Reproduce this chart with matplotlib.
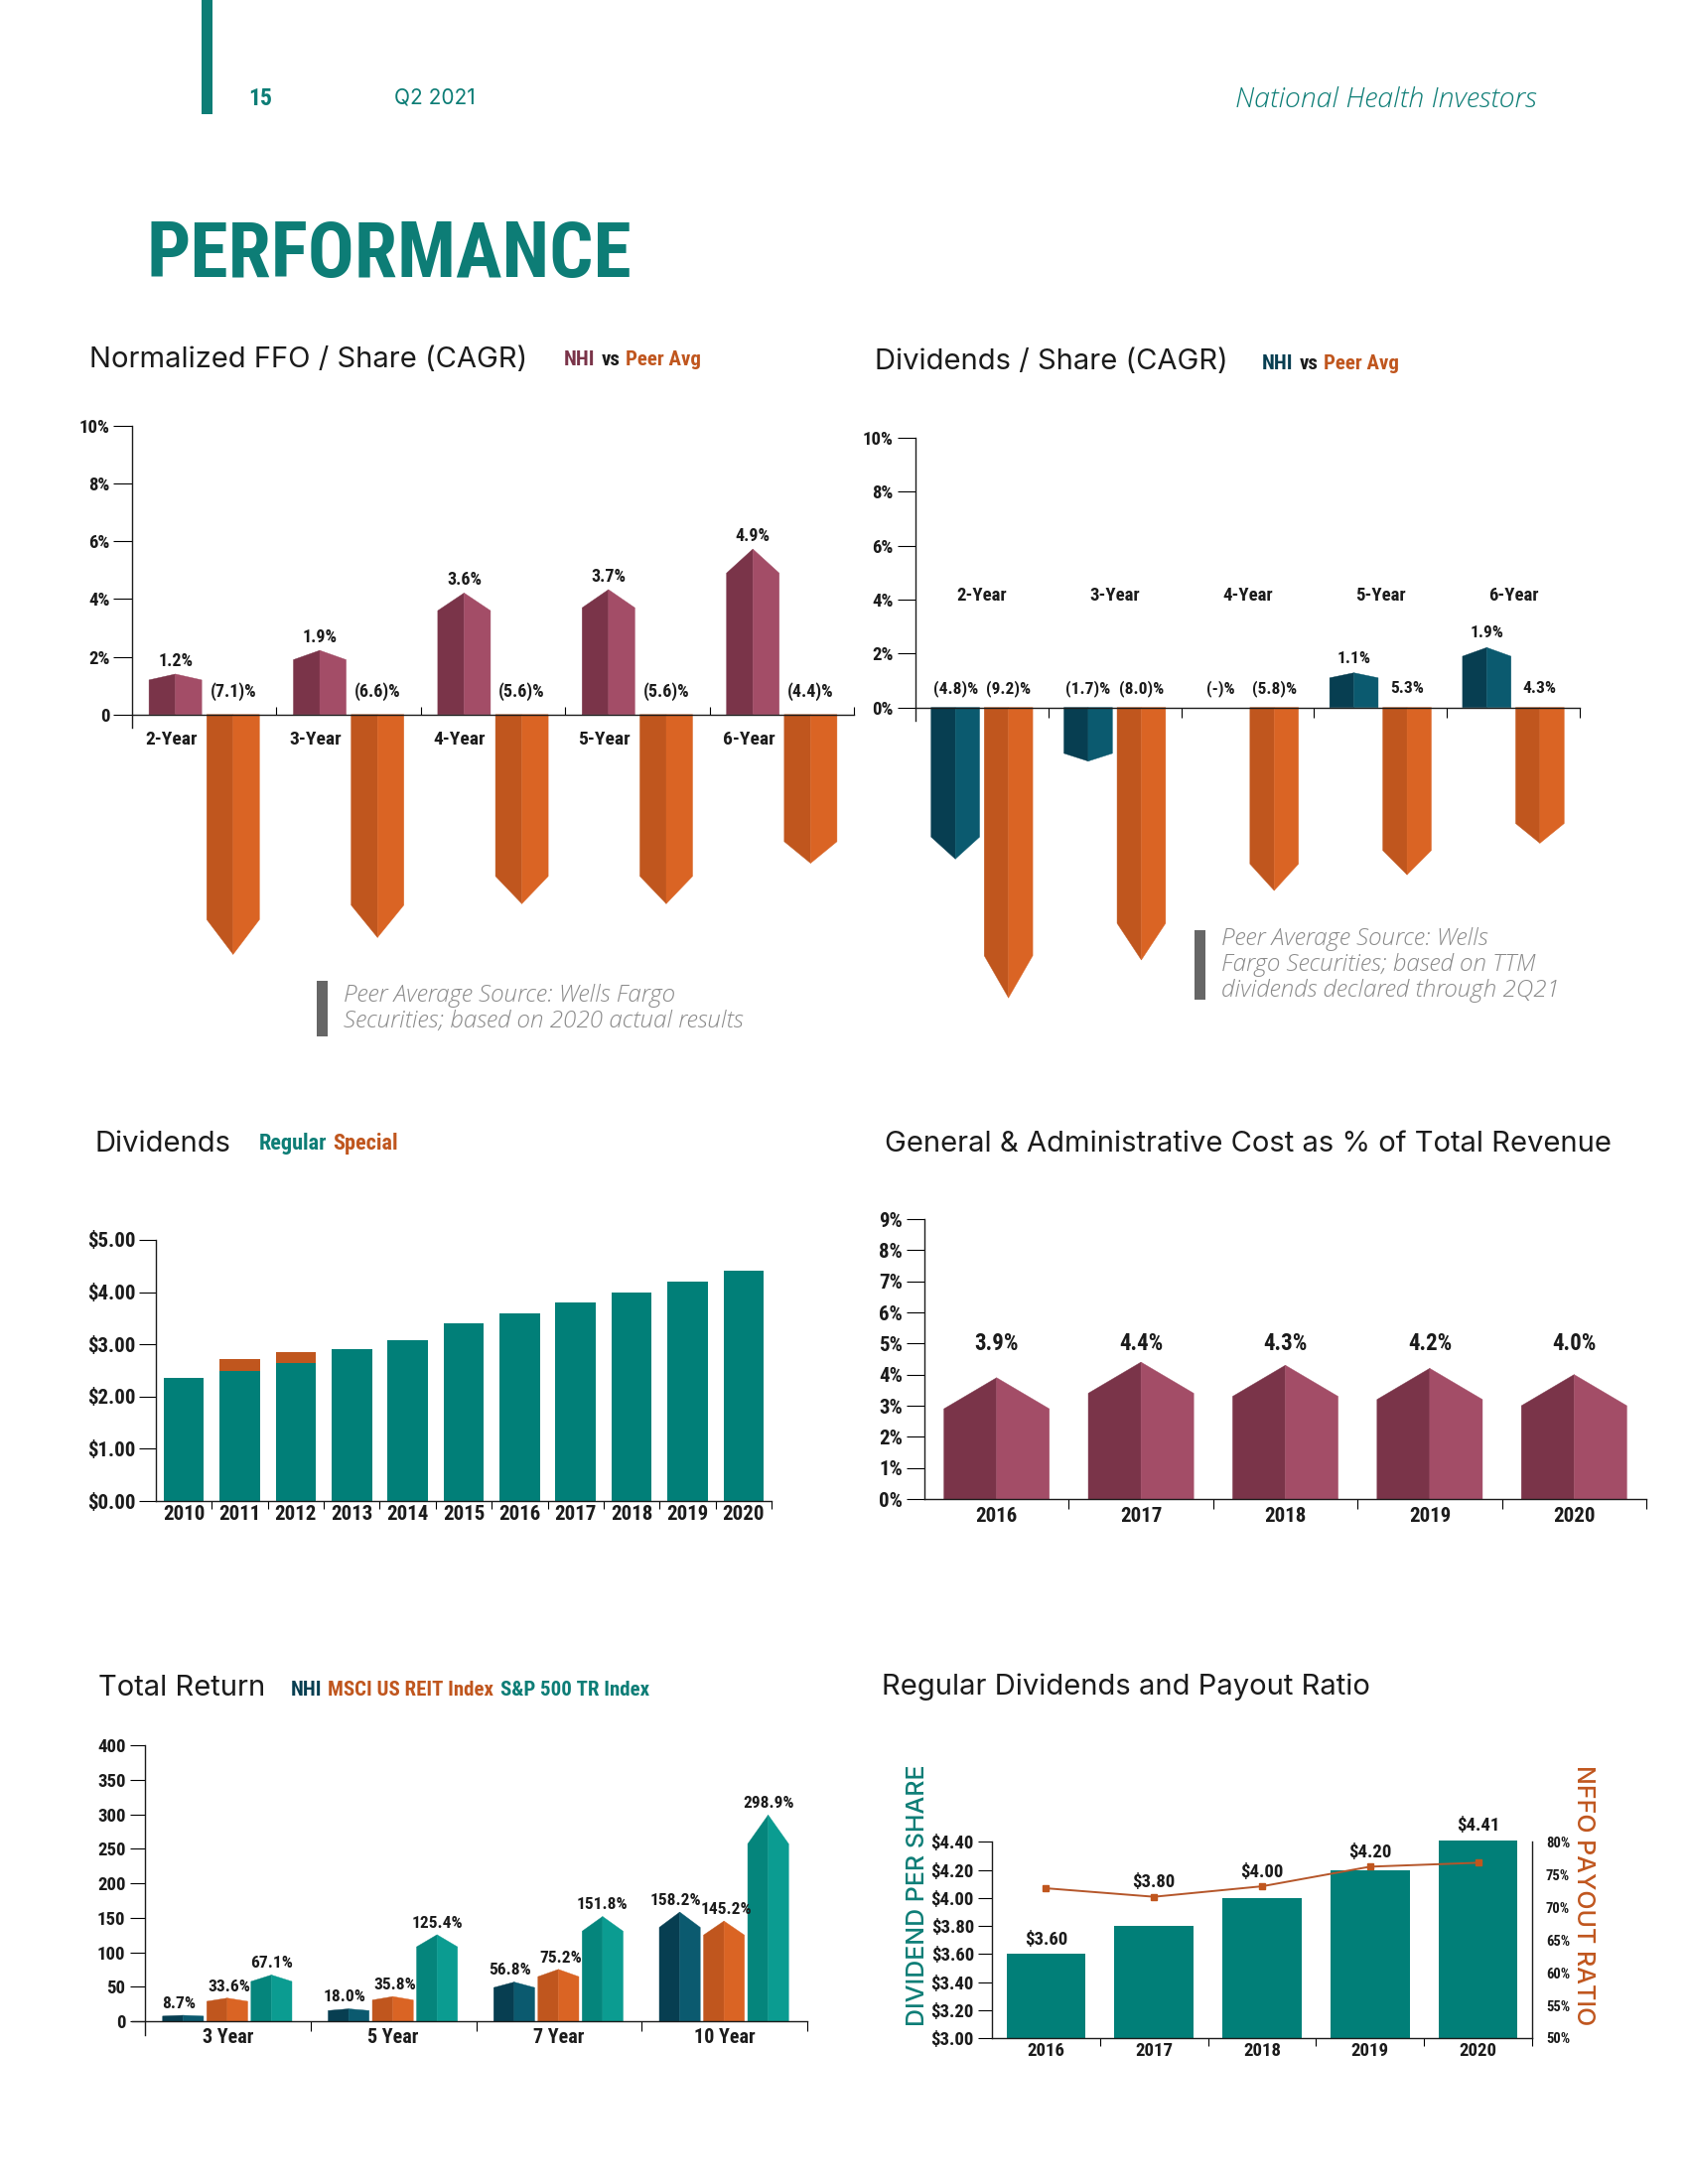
import matplotlib
matplotlib.use("Agg")
import matplotlib.pyplot as plt
from matplotlib import font_manager
from matplotlib.patches import Rectangle

W, H = 1700, 2200

# ---- data -------------------------------------------------------------
CAGR_GROUPS = ["2-Year", "3-Year", "4-Year", "5-Year", "6-Year"]

FFO_NHI = [1.2, 1.9, 3.6, 3.7, 4.9]
FFO_PEER = [-7.1, -6.6, -5.6, -5.6, -4.4]
FFO_NHI_LABELS = ["1.2%", "1.9%", "3.6%", "3.7%", "4.9%"]
FFO_PEER_LABELS = ["(7.1)%", "(6.6)%", "(5.6)%", "(5.6)%", "(4.4)%"]
FFO_YTICKS = [0, 2, 4, 6, 8, 10]
FFO_YLABELS = ["0", "2%", "4%", "6%", "8%", "10%"]

DPS_NHI = [-4.8, -1.7, 0.0, 1.1, 1.9]
DPS_PEER = [-9.2, -8.0, -5.8, -5.3, -4.3]
DPS_NHI_LABELS = ["(4.8)%", "(1.7)%", "(-)%", "1.1%", "1.9%"]
DPS_PEER_LABELS = ["(9.2)%", "(8.0)%", "(5.8)%", "5.3%", "4.3%"]
DPS_YLABELS = ["0%", "2%", "4%", "6%", "8%", "10%"]

DIV_YEARS = ["2010", "2011", "2012", "2013", "2014", "2015",
             "2016", "2017", "2018", "2019", "2020"]
DIV_REGULAR = [2.36, 2.50, 2.64, 2.90, 3.08, 3.40, 3.60, 3.80, 4.00, 4.20, 4.41]
DIV_SPECIAL = [0.0, 0.22, 0.22, 0.0, 0.0, 0.0, 0.0, 0.0, 0.0, 0.0, 0.0]
DIV_YTICKS = [0, 1, 2, 3, 4, 5]
DIV_YLABELS = ["$0.00", "$1.00", "$2.00", "$3.00", "$4.00", "$5.00"]

GA_YEARS = ["2016", "2017", "2018", "2019", "2020"]
GA_PCT = [3.9, 4.4, 4.3, 4.2, 4.0]
GA_LABELS = ["3.9%", "4.4%", "4.3%", "4.2%", "4.0%"]
GA_YTICKS = list(range(10))
GA_YLABELS = [f"{t}%" for t in GA_YTICKS]

TR_PERIODS = ["3 Year", "5 Year", "7 Year", "10 Year"]
TR_NHI = [8.7, 18.0, 56.8, 158.2]
TR_MSCI = [33.6, 35.8, 75.2, 145.2]
TR_SP = [67.1, 125.4, 151.8, 298.9]
TR_YTICKS = [0, 50, 100, 150, 200, 250, 300, 350, 400]

PAY_YEARS = ["2016", "2017", "2018", "2019", "2020"]
PAY_DPS = [3.60, 3.80, 4.00, 4.20, 4.41]
PAY_DPS_LABELS = ["$3.60", "$3.80", "$4.00", "$4.20", "$4.41"]
PAY_RATIO = [72.9, 71.6, 73.2, 76.2, 76.8]
PAY_YTICKS = [3.0, 3.2, 3.4, 3.6, 3.8, 4.0, 4.2, 4.4]
PAY_YLABELS = ["$3.00", "$3.20", "$3.40", "$3.60", "$3.80", "$4.00", "$4.20", "$4.40"]
PAY_RTICKS = [50, 55, 60, 65, 70, 75, 80]

# ---- style ------------------------------------------------------------
TEAL = "#0d7d76"
TEAL_BAR = "#017f78"
MAROON_D, MAROON_L = "#7a3449", "#a34d67"
ORANGE_D, ORANGE_L = "#c0561e", "#da6424"
NAVY_D, NAVY_L = "#073e51", "#0b5a6f"
SP_D, SP_L = "#05857c", "#0b9c91"
INK = "#1b1b1b"

_installed = {f.name for f in font_manager.fontManager.ttflist}
COND = next((n for n in ["Liberation Sans Narrow", "Roboto Condensed",
                         "DejaVu Sans Condensed"] if n in _installed), "DejaVu Sans")
CK = dict(fontfamily=COND, fontstretch="condensed", fontweight="bold", color=INK)
SANS = ["Inter", "Open Sans", "DejaVu Sans"]
LIGHT = ["Open Sans", "Lato", "DejaVu Sans"]
TITLE = dict(fontsize=21, fontfamily=SANS, color=INK, va="center", ha="left")

plt.rcParams["axes.linewidth"] = 1.0
plt.rcParams["axes.edgecolor"] = INK


def px_axes(fig, left, top, right, bottom):
    return fig.add_axes([left / W, 1 - bottom / H, (right - left) / W, (bottom - top) / H])


def fig_text(fig, x, y, s, **kw):
    return fig.text(x / W, 1 - y / H, s, **kw)


def text_run(fig, x, y, pieces, size=15, gap=6):
    renderer = fig.canvas.get_renderer()
    for s, color in pieces:
        t = fig_text(fig, x, y, s, fontsize=size, va="center", ha="left",
                     **{**CK, "color": color})
        x = t.get_window_extent(renderer).x1 + gap


def footnote(fig, x, top, bottom, lines):
    fig.add_artist(Rectangle((x / W, 1 - bottom / H), 11 / W, (bottom - top) / H,
                             transform=fig.transFigure, color="#666666", lw=0))
    fig_text(fig, x + 27, (top + bottom) / 2, "\n".join(lines), fontsize=17.5,
             style="italic", fontweight="light", fontfamily=LIGHT, color="#8a8a8a",
             va="center", ha="left", linespacing=1.1)


def pointed_bar(ax, xc, width, shoulder, tip, dark, light):
    # two-tone bar with a pointed end: left half dark, right half light
    if shoulder == 0:
        return
    half = width / 2
    ax.fill([xc - half, xc - half, xc, xc], [0, shoulder, tip, 0],
            color=dark, lw=0.3, ec=dark)
    ax.fill([xc, xc, xc + half, xc + half], [0, tip, shoulder, 0],
            color=light, lw=0.3, ec=light)


def clean(ax, left_bounds, bottom_bounds, bottom_at=None):
    ax.spines[["top", "right"]].set_visible(False)
    ax.spines["left"].set_bounds(*left_bounds)
    ax.spines["bottom"].set_bounds(*bottom_bounds)
    if bottom_at is not None:
        ax.spines["bottom"].set_position(("data", bottom_at))
    ax.patch.set_alpha(0)


def draw_header(fig):
    fig.add_artist(Rectangle((203 / W, 1 - 115 / H), 11 / W, 115 / H,
                             transform=fig.transFigure, color=TEAL, lw=0))
    fig_text(fig, 250, 100, "15", fontsize=17, va="center", **{**CK, "color": TEAL})
    fig_text(fig, 397, 99, "Q2 2021", fontsize=15, color=TEAL, fontfamily=SANS, va="center")
    fig_text(fig, 1547, 100, "National Health Investors", fontsize=20.5, style="italic",
             fontweight="light", color=TEAL, fontfamily=LIGHT, ha="right", va="center")
    fig_text(fig, 147, 258, "PERFORMANCE", fontsize=56, va="center",
             **{**CK, "color": TEAL})


def draw_ffo(fig):
    fig_text(fig, 90, 362, "Normalized FFO / Share (CAGR)", **TITLE)
    text_run(fig, 568, 363, [("NHI", MAROON_D), ("vs", INK), ("Peer Avg", ORANGE_D)])
    ax = px_axes(fig, 133, 429, 860, 999)
    ax.set_xlim(0, len(CAGR_GROUPS))
    ax.set_ylim(-9.6, 10)
    for i, group in enumerate(CAGR_GROUPS):
        nv, pv = FFO_NHI[i], FFO_PEER[i]
        pointed_bar(ax, i + 0.3, 0.365, nv, nv * 1.17, MAROON_D, MAROON_L)
        pointed_bar(ax, i + 0.7, 0.365, pv, pv * 1.17, ORANGE_D, ORANGE_L)
        ax.annotate(FFO_NHI_LABELS[i], (i + 0.3, nv * 1.17), xytext=(0, 3),
                    textcoords="offset points", ha="center", va="bottom",
                    fontsize=13, **CK)
        ax.text(i + 0.7, 0.8, FFO_PEER_LABELS[i], ha="center", va="center",
                fontsize=13, **CK)
        ax.text(i + 0.27, -0.85, group, ha="center", va="center", fontsize=14, **CK)
    clean(ax, (-0.45, 10), (0, len(CAGR_GROUPS)), bottom_at=0)
    ax.set_yticks(FFO_YTICKS, FFO_YLABELS, fontsize=13.5, **CK)
    ax.set_xticks(range(1, len(CAGR_GROUPS) + 1), [])
    ax.tick_params(axis="y", length=14, width=0.8, pad=2)
    ax.tick_params(axis="x", direction="in", length=6, width=0.8)
    footnote(fig, 319, 988, 1044, ["Peer Average Source: Wells Fargo",
                                   "Securities; based on 2020 actual results"])


def draw_dps(fig):
    fig_text(fig, 881, 364, "Dividends / Share (CAGR)", **TITLE)
    text_run(fig, 1271, 366, [("NHI", NAVY_D), ("vs", INK), ("Peer Avg", ORANGE_D)])
    ax = px_axes(fig, 922, 441, 1591, 1017)
    ax.set_xlim(0, len(CAGR_GROUPS))
    ax.set_ylim(-11.2, 10)
    for i, group in enumerate(CAGR_GROUPS):
        nv, pv = DPS_NHI[i], DPS_PEER[i]
        pointed_bar(ax, i + 0.3, 0.365, nv, nv * 1.17, NAVY_D, NAVY_L)
        pointed_bar(ax, i + 0.7, 0.365, pv, pv * 1.17, ORANGE_D, ORANGE_L)
        if nv > 0:
            ax.annotate(DPS_NHI_LABELS[i], (i + 0.3, nv * 1.17), xytext=(0, 5),
                        textcoords="offset points", ha="center", va="bottom",
                        fontsize=12.5, **CK)
        else:
            ax.text(i + 0.3, 0.7, DPS_NHI_LABELS[i], ha="center", va="center",
                    fontsize=12.5, **CK)
        ax.text(i + 0.7, 0.7, DPS_PEER_LABELS[i], ha="center", va="center",
                fontsize=12.5, **CK)
        ax.text(i + 0.5, 4.15, group, ha="center", va="center", fontsize=13.5, **CK)
    clean(ax, (-0.5, 10), (0, len(CAGR_GROUPS)), bottom_at=0)
    ax.set_yticks(FFO_YTICKS, DPS_YLABELS, fontsize=13.5, **CK)
    ax.set_xticks(range(1, len(CAGR_GROUPS) + 1), [])
    ax.tick_params(axis="y", length=13, width=0.8, pad=3)
    ax.tick_params(axis="x", direction="out", length=7, width=0.8)
    footnote(fig, 1203, 937, 1007, ["Peer Average Source: Wells",
                                    "Fargo Securities; based on TTM",
                                    "dividends declared through 2Q21"])


def draw_dividends(fig):
    fig_text(fig, 96, 1152, "Dividends", **TITLE)
    text_run(fig, 261, 1152, [("Regular", TEAL), ("Special", ORANGE_D)], size=16)
    ax = px_axes(fig, 157, 1249, 777, 1512)
    n = len(DIV_YEARS)
    centers = [i + 0.5 for i in range(n)]
    ax.bar(centers, DIV_REGULAR, 0.72, color=TEAL_BAR)
    ax.bar(centers, DIV_SPECIAL, 0.72, bottom=DIV_REGULAR, color=ORANGE_D)
    ax.set_xlim(0, n)
    ax.set_ylim(0, 5)
    clean(ax, (0, 5), (0, n))
    ax.set_yticks(DIV_YTICKS, DIV_YLABELS, fontsize=15, **CK)
    ax.set_xticks(range(1, n + 1), [])
    ax.set_xticks(centers, DIV_YEARS, minor=True, fontsize=15, **CK)
    ax.tick_params(axis="y", length=12, width=0.8, pad=3)
    ax.tick_params(axis="x", which="major", length=6, width=0.8)
    ax.tick_params(axis="x", which="minor", length=0, pad=3)


def draw_ga(fig):
    fig_text(fig, 891, 1152, "General & Administrative Cost as % of Total Revenue", **TITLE)
    ax = px_axes(fig, 931, 1228, 1658, 1510)
    n = len(GA_YEARS)
    ax.set_xlim(0, n)
    ax.set_ylim(0, 9)
    for i, v in enumerate(GA_PCT):
        pointed_bar(ax, i + 0.5, 0.73, v - 1.0, v, MAROON_D, MAROON_L)
        ax.text(i + 0.5, 5.0, GA_LABELS[i], ha="center", va="center", fontsize=16.5, **CK)
    clean(ax, (0, 9), (0, n))
    ax.set_yticks(GA_YTICKS, GA_YLABELS, fontsize=15, **CK)
    ax.set_xticks(range(1, n + 1), [])
    ax.set_xticks([i + 0.5 for i in range(n)], GA_YEARS, minor=True, fontsize=15, **CK)
    ax.tick_params(axis="y", length=13, width=0.8, pad=3)
    ax.tick_params(axis="x", which="major", length=7, width=0.8)
    ax.tick_params(axis="x", which="minor", length=0, pad=6)


def draw_total_return(fig):
    fig_text(fig, 99, 1701, "Total Return", **TITLE)
    text_run(fig, 293, 1702, [("NHI", NAVY_D), ("MSCI US REIT Index", ORANGE_D),
                              ("S&P 500 TR Index", TEAL)])
    ax = px_axes(fig, 146, 1758, 813, 2050)
    n = len(TR_PERIODS)
    ax.set_xlim(0, n)
    ax.set_ylim(-20, 400)
    series = [(TR_NHI, 0.23, -3.0, NAVY_D, NAVY_L),
              (TR_MSCI, 0.497, 1.5, ORANGE_D, ORANGE_L),
              (TR_SP, 0.764, 0.0, SP_D, SP_L)]
    for values, off, nudge, dark, light in series:
        for i, v in enumerate(values):
            pointed_bar(ax, i + off, 0.247, v * 0.86, v, dark, light)
            ax.annotate(f"{v:.1f}%", (i + off, v), xytext=(nudge, 3),
                        textcoords="offset points", ha="center", va="bottom",
                        fontsize=12.5, **CK)
    clean(ax, (-20, 400), (-0.08, n), bottom_at=0)
    ax.set_yticks(TR_YTICKS, [str(t) for t in TR_YTICKS], fontsize=13.5, **CK)
    ax.set_xticks(range(1, n + 1), [])
    ax.set_xticks([i + 0.5 for i in range(n)], TR_PERIODS, minor=True, fontsize=14.5, **CK)
    ax.tick_params(axis="y", length=11, width=0.8, pad=3)
    ax.tick_params(axis="x", which="major", length=7, width=0.8)
    ax.tick_params(axis="x", which="minor", length=0, pad=5)


def draw_payout(fig):
    fig_text(fig, 888, 1699, "Regular Dividends and Payout Ratio", **TITLE)
    ax = px_axes(fig, 999, 1820, 1543, 2053)
    n = len(PAY_YEARS)
    centers = [i + 0.5 for i in range(n)]
    lo, hi = 3.0, 4.65
    r_lo, r_hi = 50, 50 + 30 * (hi - lo) / 1.4
    ax.bar(centers, PAY_DPS, 0.73, color=TEAL_BAR)
    for c, v, r, lab in zip(centers, PAY_DPS, PAY_RATIO, PAY_DPS_LABELS):
        line_at = lo + (r - r_lo) * (hi - lo) / (r_hi - r_lo)
        base = line_at if -0.05 < line_at - v < 0.3 else v
        ax.annotate(lab, (c, base), xytext=(0, 4), textcoords="offset points",
                    ha="center", va="bottom", fontsize=13.5, **CK)
    ax.set_xlim(0, n)
    ax.set_ylim(lo, hi)
    clean(ax, (3.0, 4.4), (0, n))
    ax.set_yticks(PAY_YTICKS, PAY_YLABELS, fontsize=13.5, **CK)
    ax.set_xticks(range(1, n + 1), [])
    ax.set_xticks(centers, PAY_YEARS, minor=True, fontsize=13.5, **CK)
    ax.tick_params(axis="y", length=10, width=0.8, pad=3)
    ax.tick_params(axis="x", which="major", length=6, width=0.8)
    ax.tick_params(axis="x", which="minor", length=0, pad=3)

    ax2 = ax.twinx()
    ax2.set_ylim(r_lo, r_hi)
    ax2.plot(centers, PAY_RATIO, color="#b5562a", lw=1.4, marker="s", ms=5,
             mfc=ORANGE_D, mec=ORANGE_D)
    ax2.spines[["top", "left", "bottom"]].set_visible(False)
    ax2.spines["right"].set_bounds(50, 80)
    ax2.set_yticks(PAY_RTICKS, [f"{t}%" for t in PAY_RTICKS], fontsize=10.5, **CK)
    ax2.tick_params(axis="y", length=0, pad=10)

    fig_text(fig, 925, 1909, "DIVIDEND PER SHARE", rotation=90, fontsize=18,
             fontweight="medium", fontfamily=SANS, color=TEAL, ha="center", va="center")
    fig_text(fig, 1594, 1909, "NFFO PAYOUT RATIO", rotation=270, fontsize=18,
             fontweight="medium", fontfamily=SANS, color=ORANGE_D, ha="center", va="center")


fig = plt.figure(figsize=(W / 100, H / 100), dpi=100)
fig.patch.set_facecolor("white")
draw_header(fig)
draw_ffo(fig)
draw_dps(fig)
draw_dividends(fig)
draw_ga(fig)
draw_total_return(fig)
draw_payout(fig)
fig.savefig("out.png", dpi=100)
plt.close(fig)
